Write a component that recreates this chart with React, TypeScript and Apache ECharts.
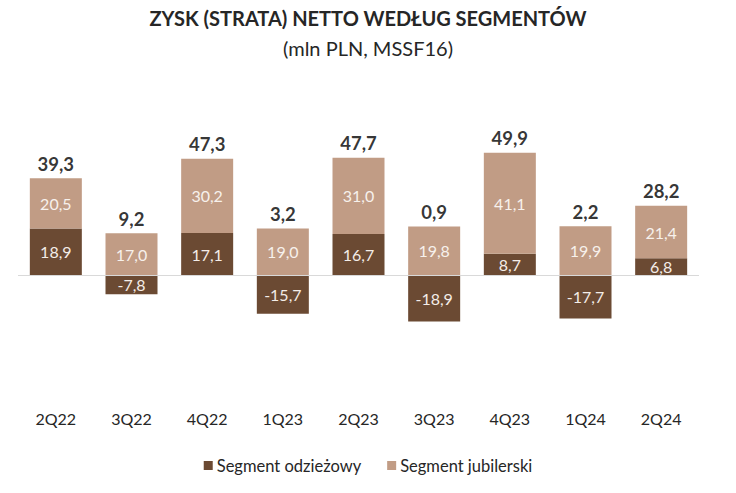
import React, { useEffect, useRef } from "react";
import * as echarts from "echarts";

const categories = ["2Q22", "3Q22", "4Q22", "1Q23", "2Q23", "3Q23", "4Q23", "1Q24", "2Q24"];
const odziezowy = [18.9, -7.8, 17.1, -15.7, 16.7, -18.9, 8.7, -17.7, 6.8];
const jubilerski = [20.5, 17.0, 30.2, 19.0, 31.0, 19.8, 41.1, 19.9, 21.4];
const totals = [39.3, 9.2, 47.3, 3.2, 47.7, 0.9, 49.9, 2.2, 28.2];

const DARK = "#6b4a33";
const LIGHT = "#c19c85";
const FONT = "Lato";

const fmt = (v: number) => v.toFixed(1).replace(".", ",");

export default function App() {
  const ref = useRef<HTMLDivElement>(null);
  useEffect(() => {
    if (!ref.current) return;
    const chart = echarts.init(ref.current, null, { renderer: "svg" });
    const stackTops = jubilerski.map((j, i) => (odziezowy[i] > 0 ? odziezowy[i] + j : j));
    chart.setOption({
      animation: false,
      textStyle: { fontFamily: FONT },
      title: [
        {
          text: "ZYSK (STRATA) NETTO WEDŁUG SEGMENTÓW",
          left: "center",
          top: 3,
          textStyle: { fontFamily: FONT, fontSize: 20, fontWeight: "bold", color: "#262626" },
        },
        {
          text: "(mln PLN, MSSF16)",
          left: "center",
          top: 33,
          textStyle: { fontFamily: FONT, fontSize: 20, fontWeight: "normal", color: "#262626" },
        },
      ],
      legend: {
        bottom: 14,
        left: "center",
        itemWidth: 9,
        itemHeight: 9,
        itemGap: 26,
        icon: "rect",
        textStyle: { fontFamily: FONT, fontSize: 16.5, color: "#262626", padding: [0, 0, 0, -1] },
        data: ["Segment odzieżowy", "Segment jubilerski"],
      },
      grid: { left: 18, right: 37, top: 103, bottom: 95 },
      xAxis: {
        type: "category",
        data: categories,
        axisLine: { show: false, onZero: false },
        axisTick: { show: false },
        axisLabel: { fontFamily: FONT, fontSize: 16, color: "#262626", margin: 12 },
      },
      yAxis: {
        type: "value",
        min: -50,
        max: 70,
        show: false,
        splitLine: { show: false },
      },
      series: [
        {
          name: "Segment odzieżowy",
          type: "bar",
          stack: "a",
          barWidth: 52,
          data: odziezowy,
          itemStyle: { color: DARK },
          label: {
            show: true,
            position: "inside",
            color: "#f4ede8",
            fontFamily: FONT,
            fontSize: 16,
            formatter: (p: any) => fmt(p.value),
          },
          markLine: {
            silent: true,
            symbol: "none",
            label: { show: false },
            lineStyle: { color: "#d9d9d9", width: 1, type: "solid" },
            data: [{ yAxis: 0 }],
          },
          z: 2,
        },
        {
          name: "Segment jubilerski",
          type: "bar",
          stack: "a",
          barWidth: 52,
          data: jubilerski,
          itemStyle: { color: LIGHT },
          label: {
            show: true,
            position: "inside",
            color: "#f7f1ec",
            fontFamily: FONT,
            fontSize: 16,
            formatter: (p: any) => fmt(p.value),
          },
          z: 2,
        },
        {
          name: "total",
          type: "scatter",
          data: stackTops,
          symbolSize: 0,
          itemStyle: { color: "transparent" },
          label: {
            show: true,
            position: "top",
            distance: 5,
            color: "#000",
            fontFamily: FONT,
            fontSize: 18.5,
            fontWeight: "bold",
            formatter: (p: any) => fmt(totals[p.dataIndex]),
          },
          z: 3,
        },
      ],
    });
    return () => chart.dispose();
  }, []);
  return <div ref={ref} style={{ width: 736, height: 493, position: "absolute", left: 0, top: 0 }} />;
}
